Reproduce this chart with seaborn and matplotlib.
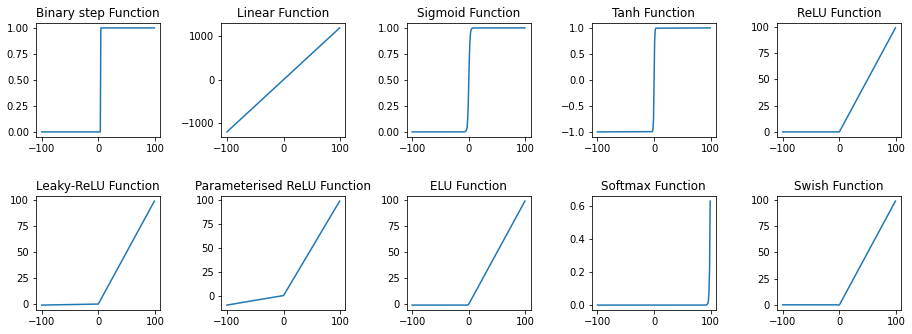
import matplotlib
matplotlib.use("Agg")
import matplotlib.pyplot as plt
import seaborn as sns

titles = ["Binary step Function", "Linear Function", "Sigmoid Function", "Tanh Function", "ReLU Function",
          "Leaky-ReLU Function", "Parameterised ReLU Function", "ELU Function", "Softmax Function", "Swish Function"]

binary_x = [-100, 3.5, 4.5, 99]
binary_y = [0, 0, 1, 1]

linear_x = [-100, 99]
linear_y = [-1200, 1188]

sigmoid_x = [-100, -8, -6, -4, -3, -2, -1, 0, 1, 2, 3, 4, 6, 8, 99]
sigmoid_y = [0.0, 0.0003, 0.0025, 0.018, 0.047, 0.12, 0.27, 0.5, 0.73, 0.88, 0.953, 0.982, 0.9975, 0.9997, 1.0]

tanh_x = [-100, -3, -2, -1, 0, 1, 2, 3, 99]
tanh_y = [-1.0, -0.995, -0.96, -0.76, 0.0, 0.76, 0.96, 0.995, 1.0]

relu_x = [-100, 0, 99]
relu_y = [0, 0, 99]

leaky_x = [-100, 0, 99]
leaky_y = [-1, 0, 99]

prelu_x = [-100, 0, 99]
prelu_y = [-10, 0, 99]

elu_x = [-100, -5, -3, -2, -1, 0, 99]
elu_y = [-1.0, -0.99, -0.95, -0.86, -0.63, 0, 99]

softmax_x = [-100, 90, 93, 95, 96, 97, 98, 99]
softmax_y = [0.0, 0.00008, 0.0016, 0.0116, 0.0315, 0.0855, 0.2325, 0.632]

swish_x = [-100, -5, -2, -1, 0, 1, 2, 99]
swish_y = [0.0, -0.03, -0.24, -0.27, 0.0, 0.73, 1.76, 99]

series = [(binary_x, binary_y), (linear_x, linear_y), (sigmoid_x, sigmoid_y), (tanh_x, tanh_y),
          (relu_x, relu_y), (leaky_x, leaky_y), (prelu_x, prelu_y), (elu_x, elu_y),
          (softmax_x, softmax_y), (swish_x, swish_y)]

fig, axes = plt.subplots(2, 5, figsize=(912 / 72, 334 / 72), dpi=72)
fig.subplots_adjust(left=0.0395, right=0.988, top=0.932, bottom=0.071, wspace=0.494, hspace=0.514)

for ax, title, (xs, ys) in zip(axes.flat, titles, series):
    sns.lineplot(x=xs, y=ys, ax=ax, color="#1f77b4", linewidth=1.5)
    ax.set_title(title, fontsize=12)

fig.savefig("out.png", dpi=72, facecolor="white")
